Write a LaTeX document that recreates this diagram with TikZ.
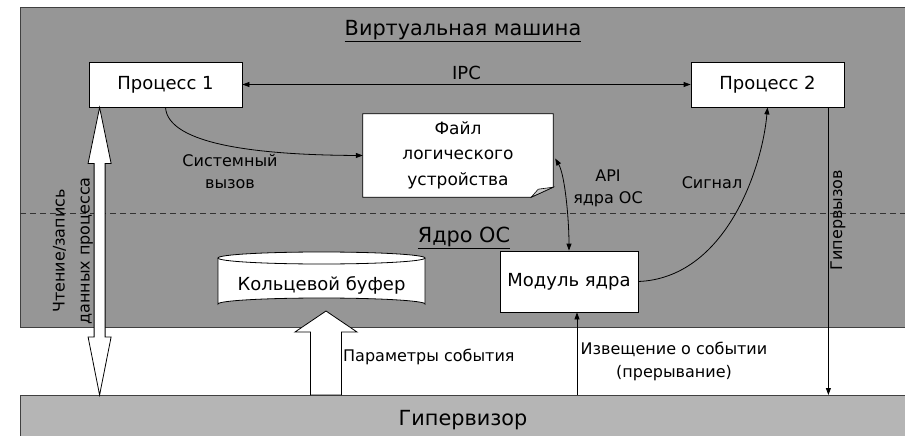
\documentclass[tikz,border=0pt]{standalone}
\usepackage{fontspec}
\setmainfont{DejaVu Sans}
\usetikzlibrary{arrows.meta,calc}
\definecolor{vmgray}{RGB}{150,150,150}
\definecolor{hypgray}{RGB}{181,181,181}
\definecolor{edgegray}{RGB}{64,64,64}
\definecolor{foldgray}{RGB}{200,200,200}
\begin{document}
\begin{tikzpicture}[x=1pt,y=-1pt,
  procbox/.style={draw=black, fill=white, line width=0.8pt, minimum width=153pt, minimum height=45pt, font=\fontsize{18}{22}\selectfont, inner sep=0pt},
  lbl/.style={font=\fontsize{16}{22}\selectfont, align=center, inner sep=0pt},
  big/.style={font=\fontsize{18}{22}\selectfont, inner sep=0pt},
  huge/.style={font=\fontsize{20.8}{24}\selectfont, inner sep=0pt},
  conn/.style={line width=0.8pt, -{Triangle[length=7pt,width=5pt]}},
  dconn/.style={line width=0.8pt, {Triangle[length=7pt,width=5pt]}-{Triangle[length=7pt,width=5pt]}},
  fat/.style={draw=black, fill=white, line width=0.8pt, line join=miter}
]
\fill[white] (0,0) rectangle (905,436);
\useasboundingbox (0,0) rectangle (905,436);

% layers
\node[draw=edgegray, fill=vmgray, line width=0.8pt, anchor=north west, minimum width=888pt, minimum height=320pt, inner sep=0pt] (vm) at (20,7) {};
\node[draw=edgegray, fill=hypgray, line width=0.8pt, anchor=north west, minimum width=888pt, minimum height=45pt, inner sep=0pt] (hyp) at (20,395) {};
\node[huge] (hyptext) at (463,420) {Гипервизор};
\draw[black!80, line width=0.8pt, dash pattern=on 6pt off 4pt] (20,213) -- (905,213);

\node[huge] (title) at (463,31) {\underline{Виртуальная машина}};
\node[huge] (core) at (464,238) {\underline{Ядро ОС}};

% processes
\node[procbox] (p1) at (165.5,84.5) {Процесс 1};
\node[procbox] (p2) at (767.5,84.5) {Процесс 2};

% file (note shape)
\node[minimum width=190pt, minimum height=83pt, inner sep=0pt] (file) at (458,155.5) {};
\draw[fill=white, line width=0.8pt] (file.north west) -- (file.north east) -- ($(file.south east)+(0,-10)$) -- ($(file.south east)+(-22,0)$) -- (file.south west) -- cycle;
\draw[fill=foldgray, line width=0.6pt] ($(file.south east)+(-22,0)$) -- ($(file.south east)+(-15,-8)$) -- ($(file.south east)+(0,-10)$) -- cycle;
\node[big, align=center, font=\fontsize{17}{25.5}\selectfont] (filetext) at (458,155) {Файл\\логического\\устройства};

% ring buffer (cylinder)
\draw[fill=white, line width=0.8pt] (218,258) -- (218,304) arc[start angle=180, end angle=0, x radius=103.5pt, y radius=6pt] -- (425,258);
\draw[fill=white, line width=0.8pt] (321.5,258) ellipse[x radius=103.5pt, y radius=6pt];
\node[big, minimum width=207pt, minimum height=58pt] (buf) at (321.5,285) {Кольцевой буфер};

% kernel module
\node[procbox, minimum width=138pt, minimum height=61pt] (mod) at (569,281.5) {Модуль ядра};

% IPC
\draw[dconn] (p1.east) -- (p2.west) node[midway, above=4pt, big] (ipc) {IPC};

% system call
\draw[conn] (p1.south) .. controls (168,145) and (260,155) .. (file.west);
\node[lbl] (syscall) at (230,172) {Системный\\вызов};

% API
\draw[dconn] ($(file.east)+(2,3)$) .. controls (565,175) and (569,220) .. (mod.north);
\node[lbl] (api) at (608,188) {API\\ядра ОС};

% signal
\draw[conn] (mod.east) .. controls (725,278) and (762,170) .. (p2.south);
\node[lbl] (sig) at (712,183) {Сигнал};

% hypercall
\coordinate (hcs) at ($(p2.south east)+(-16,0)$);
\draw[conn] (hcs) -- (hcs |- hyp.north);
\node[lbl, rotate=90] (hc) at (838,220) {Гипервызов};

% notification
\coordinate (nts) at ($(mod.south)+(8,0)$);
\draw[conn] (nts |- hyp.north) -- (nts);
\node[lbl, font=\fontsize{16}{23}\selectfont] (note) at (674,361) {Извещение о событии\\(прерывание)};

% read/write fat double arrow
\coordinate (rwtop) at ($(p1.south west)+(11,0)$);
\coordinate (rwbot) at (rwtop |- hyp.north);
\draw[fat] (rwtop) -- ++(11.5,56) -- ++(-6,0) -- ($(rwbot)+(5.5,-58)$) -- ++(6,0) -- (rwbot) -- ++(-11.5,-58) -- ++(6,0) -- ($(rwtop)+(-5.5,56)$) -- ++(-6,0) -- cycle;
\node[lbl, rotate=90, font=\fontsize{16}{25}\selectfont] (rw) at (73,251) {Чтение/запись\\данных процесса};

% event parameters fat arrow
\coordinate (pbot) at (326,395);
\coordinate (ptop) at (326,311);
\draw[fat] (ptop) -- ++(31,21) -- ++(-15.5,0) -- ($(pbot)+(15.5,0)$) -- ++(-31,0) -- ++(0,-63) -- ++(-15.5,0) -- cycle;
\node[lbl, anchor=west] (params) at (343,357) {Параметры события};
\end{tikzpicture}
\end{document}
